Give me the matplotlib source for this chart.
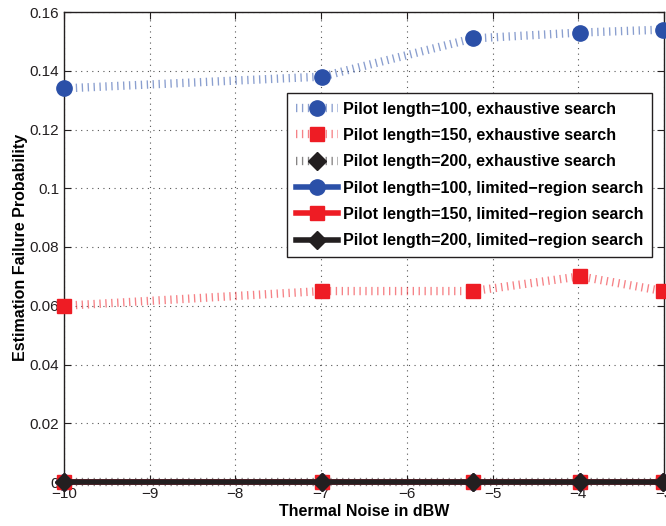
import numpy as np
import matplotlib
matplotlib.use("Agg")
import matplotlib.pyplot as plt

plt.rcParams['font.family'] = ['Liberation Sans', 'DejaVu Sans']

# thermal noise (dBW)
noise = [-10, -6.99, -5.23, -3.98, -3.01]

exh_100 = [0.134, 0.138, 0.151, 0.153, 0.154]
exh_150 = [0.060, 0.065, 0.065, 0.070, 0.065]
exh_200 = [0.0, 0.0, 0.0, 0.0, 0.0]
lim_100 = [0.0, 0.0, 0.0, 0.0, 0.0]
lim_150 = [0.0, 0.0, 0.0, 0.0, 0.0]
lim_200 = [0.0, 0.0, 0.0, 0.0, 0.0]

labels = ['Pilot length=100, exhaustive search',
          'Pilot length=150, exhaustive search',
          'Pilot length=200, exhaustive search',
          'Pilot length=100, limited\u2212region search',
          'Pilot length=150, limited\u2212region search',
          'Pilot length=200, limited\u2212region search']

blue = '#2b50a8'
red = '#ee1c24'
black = '#231f20'

fig = plt.figure(figsize=(6.66, 5.26), dpi=100)
ax = fig.add_axes([64/666, 1-482/526, 600/666, 470/526])

dots = (0, (0.16, 0.55))
exh_style = dict(lw=6, ls=dots, dash_capstyle='butt', clip_on=False, zorder=3)
h1, = ax.plot(noise, exh_100, color=blue, marker='o', ms=11, label=labels[0], **exh_style)
h2, = ax.plot(noise, exh_150, color=red, marker='s', ms=10, label=labels[1], **exh_style)
h3, = ax.plot(noise, exh_200, color=black, marker='D', ms=9, label=labels[2], **exh_style)
# lighter hatches, solid markers on top
for h, c in [(h1, blue), (h2, red), (h3, black)]:
    h.set_color((*matplotlib.colors.to_rgb(c), 0.55))
    h.set_markerfacecolor(c)
    h.set_markeredgecolor(c)

ax.plot(noise, lim_100, color=blue, lw=4, marker='o', ms=11,
        label=labels[3], zorder=4, clip_on=False)
ax.plot(noise, lim_150, color=red, lw=4, marker='s', ms=10,
        label=labels[4], zorder=4, clip_on=False)
ax.plot(noise, lim_200, color=black, lw=4, marker='D', ms=9,
        label=labels[5], zorder=5, clip_on=False)

ax.set_xlim(-10, -3)
ax.set_ylim(0, 0.16)
ax.set_xticks(np.arange(-10, -2, 1))
ax.set_yticks(np.arange(0, 0.161, 0.02))
ax.set_yticklabels(['0', '0.02', '0.04', '0.06', '0.08', '0.1', '0.12', '0.14', '0.16'])
ax.set_xticklabels(['\u221210', '\u22129', '\u22128', '\u22127', '\u22126', '\u22125', '\u22124', '\u22123'])
ax.tick_params(direction='in', labelsize=11, length=5, top=True, right=True, colors='#231f20')
ax.grid(True, ls=(0, (1, 4)), color='#555555', lw=0.8)
for s in ax.spines.values():
    s.set_color('#231f20')
    s.set_linewidth(1.0)

ax.set_xlabel('Thermal Noise in dBW', fontsize=11.5, fontweight='bold', labelpad=2)
ax.set_ylabel('Estimation Failure Probability', fontsize=11.5, fontweight='bold', labelpad=1)

leg = ax.legend(loc='upper left', bbox_to_anchor=(223/600, 1-81/470),
                prop={'weight': 'bold', 'size': 11.6}, fancybox=False, framealpha=1,
                edgecolor='#231f20', handlelength=2.6, borderpad=0.55, labelspacing=0.7,
                handletextpad=0.3, borderaxespad=0)
leg.get_frame().set_linewidth(1.0)

fig.savefig('out.png', dpi=100)
